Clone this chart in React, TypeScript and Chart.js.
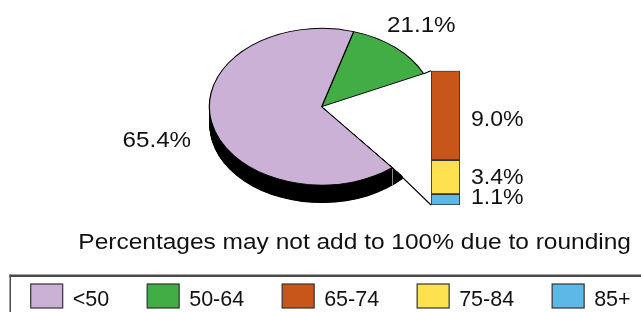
import React, { useEffect, useRef } from 'react';
import { Chart, registerables } from 'chart.js';

Chart.register(...registerables);

// ---- data ----
const categories = ['<50', '50-64', '65-74', '75-84', '85+'];
const categoryColors = ['#CBB1D5', '#42AD45', '#C8561B', '#FDE14F', '#5CB8E6'];

// pie as drawn (clockwise from the top): 50-64 wedge, split-out gap, <50 wedge
const pieSlices = ['50-64', 'split', '<50'];
const pieValues = [13.5, 21.1, 65.4];
const pieColors = ['#42AD45', 'rgba(0,0,0,0)', '#CBB1D5'];
const pieLabels = ['21.1%', '65.4%'];

// stacked bar, bottom to top
const barSegments = ['85+', '75-84', '65-74'];
const barValues = [1.1, 3.4, 9.0];
const barColors = ['#5CB8E6', '#FDE14F', '#C8561B'];
const barLabels = ['1.1%', '3.4%', '9.0%'];

const note = 'Percentages may not add to 100% due to rounding';

// ---- styling constants ----
const W = 641;
const H = 312;
const K = 0.6975; // vertical squish of the pie
const DEPTH = 18; // 3D thickness in px
const FONT = "'Liberation Sans', Arial, Helvetica, sans-serif";

function stretchText(ctx: CanvasRenderingContext2D, text: string, x: number, y: number, sx: number) {
  ctx.save();
  ctx.translate(x, y);
  ctx.scale(sx, 1);
  ctx.fillText(text, 0, 0);
  ctx.restore();
}

function rimPoint(chart: any, angle: number) {
  const arc = chart.getDatasetMeta(0).data[0] as any;
  const { x, y, outerRadius } = arc.getProps(['x', 'y', 'outerRadius'], true);
  return { x: x + outerRadius * Math.cos(angle), y: y + K * outerRadius * Math.sin(angle) };
}

const piePlugin = {
  id: 'pie3d',
  beforeDatasetsDraw(chart: any) {
    const ctx = chart.ctx as CanvasRenderingContext2D;
    const meta = chart.getDatasetMeta(0);
    const a = meta.data[2] as any;
    const { x, y, startAngle, endAngle, outerRadius } = a.getProps(
      ['x', 'y', 'startAngle', 'endAngle', 'outerRadius'],
      true
    );
    ctx.save();
    ctx.translate(0, y);
    ctx.scale(1, K);
    ctx.translate(0, -y);
    // side wall of the <50 slice
    ctx.save();
    ctx.beginPath();
    ctx.moveTo(x, y);
    ctx.arc(x, y, 3000, startAngle, startAngle + Math.PI);
    ctx.closePath();
    ctx.clip();
    ctx.fillStyle = '#000';
    for (let d = DEPTH; d > 0; d -= 0.5) {
      const yy = y + d / K;
      ctx.beginPath();
      ctx.moveTo(x, yy);
      ctx.arc(x, yy, outerRadius, startAngle - 0.13, endAngle);
      ctx.closePath();
      ctx.fill();
    }
    ctx.restore();
  },
  afterDatasetsDraw(chart: any) {
    const ctx = chart.ctx as CanvasRenderingContext2D;
    ctx.restore();
    const a = chart.getDatasetMeta(0).data[2] as any;
    const { startAngle } = a.getProps(['startAngle'], true);
    const p = rimPoint(chart, startAngle);
    ctx.save();
    ctx.strokeStyle = '#8a8a8a';
    ctx.lineWidth = 1;
    ctx.beginPath();
    ctx.moveTo(Math.round(p.x) + 0.5, p.y + 1);
    ctx.lineTo(Math.round(p.x) + 0.5, p.y + DEPTH);
    ctx.stroke();
    ctx.restore();
  },
  afterDraw(chart: any) {
    const ctx = chart.ctx as CanvasRenderingContext2D;
    ctx.save();
    ctx.fillStyle = '#111';
    ctx.textBaseline = 'alphabetic';
    ctx.textAlign = 'left';
    ctx.font = `22px ${FONT}`;
    stretchText(ctx, pieLabels[0], 387, 32.3, 1.1);
    stretchText(ctx, pieLabels[1], 122.5, 146.7, 1.1);
    stretchText(ctx, note, 78.3, 249.3, 1.113);

    // legend frame
    ctx.fillStyle = '#4a4a4a';
    ctx.fillRect(9.5, 274.5, W, 2.5);
    ctx.fillRect(9.5, 274.5, 1.5, H);

    // legend items
    ctx.font = `21.5px ${FONT}`;
    let lx = 30.7;
    categories.forEach((c, i) => {
      ctx.fillStyle = categoryColors[i];
      ctx.fillRect(lx, 284, 32, 24);
      ctx.strokeStyle = '#333';
      ctx.lineWidth = 1.2;
      ctx.strokeRect(lx, 284, 32, 24);
      ctx.fillStyle = '#111';
      ctx.fillText(c, lx + 42, 306);
      lx += 42 + ctx.measureText(c).width + 38;
    });
    ctx.restore();
  },
};

export default function App() {
  const pieRef = useRef<HTMLCanvasElement>(null);
  const barRef = useRef<HTMLCanvasElement>(null);

  useEffect(() => {
    if (!pieRef.current || !barRef.current) return;
    const pieChart = new Chart(pieRef.current, {
      type: 'pie',
      data: {
        labels: pieSlices,
        datasets: [
          {
            data: pieValues,
            backgroundColor: pieColors,
            borderColor: ['#000', 'rgba(0,0,0,0)', '#000'],
            borderWidth: [1.2, 0, 1.2],
            rotation: 16.5,
            radius: 112.4,
            clip: false,
          } as any,
        ],
      },
      options: {
        responsive: false,
        animation: false,
        devicePixelRatio: 1,
        events: [],
        layout: { padding: { left: 2.4, right: 0, top: 0, bottom: 98.6 } },
        plugins: { legend: { display: false }, tooltip: { enabled: false } },
      } as any,
      plugins: [piePlugin as any],
    });

    const barTotal = barValues.reduce((s, v) => s + v, 0);
    const barPlugin = {
      id: 'barOfPie',
      afterDatasetsDraw(chart: any) {
        const ctx = chart.ctx as CanvasRenderingContext2D;
        const gap = pieChart.getDatasetMeta(0).data[1] as any;
        const { startAngle, endAngle } = gap.getProps(['startAngle', 'endAngle'], true);
        const top = chart.getDatasetMeta(barValues.length - 1).data[0] as any;
        const bottom = chart.getDatasetMeta(0).data[0] as any;
        const pTop = rimPoint(pieChart, startAngle);
        const pBot = rimPoint(pieChart, endAngle);
        ctx.save();
        ctx.strokeStyle = '#000';
        ctx.lineWidth = 1.2;
        ctx.beginPath();
        ctx.moveTo(pTop.x, pTop.y);
        ctx.lineTo(top.x - top.width / 2, top.y);
        ctx.moveTo(pBot.x, pBot.y);
        ctx.lineTo(bottom.x - bottom.width / 2, bottom.base);
        ctx.stroke();

        ctx.fillStyle = '#111';
        ctx.font = `22px ${FONT}`;
        ctx.textBaseline = 'alphabetic';
        const offsets = [4.4, 6.5, 11];
        barLabels.forEach((lab, i) => {
          const el = chart.getDatasetMeta(i).data[0] as any;
          const c = (el.y + el.base) / 2;
          stretchText(ctx, lab, el.x + el.width / 2 + 11, c + offsets[i], 1.05);
        });
        ctx.restore();
      },
    };

    const barChart = new Chart(barRef.current, {
      type: 'bar',
      data: {
        labels: ['split'],
        datasets: barValues.map((v, i) => ({
          label: barSegments[i],
          data: [v],
          backgroundColor: barColors[i],
          borderColor: '#333',
          borderWidth: 1.2,
          borderSkipped: false,
          barPercentage: 1,
          categoryPercentage: 1,
        })),
      },
      options: {
        responsive: false,
        animation: false,
        devicePixelRatio: 1,
        events: [],
        layout: { padding: { left: 431, right: W - 460, top: 70.7, bottom: H - 205 } },
        scales: {
          x: { display: false, stacked: true },
          y: { display: false, stacked: true, min: 0, max: barTotal },
        },
        plugins: { legend: { display: false }, tooltip: { enabled: false } },
      } as any,
      plugins: [barPlugin as any],
    });

    return () => {
      barChart.destroy();
      pieChart.destroy();
    };
  }, []);

  return (
    <div style={{ position: 'fixed', left: 0, top: 0, width: W, height: H, background: '#fff', overflow: 'hidden' }}>
      <canvas ref={pieRef} width={W} height={H} style={{ position: 'absolute', left: 0, top: 0, width: W, height: H }} />
      <canvas ref={barRef} width={W} height={H} style={{ position: 'absolute', left: 0, top: 0, width: W, height: H }} />
    </div>
  );
}
